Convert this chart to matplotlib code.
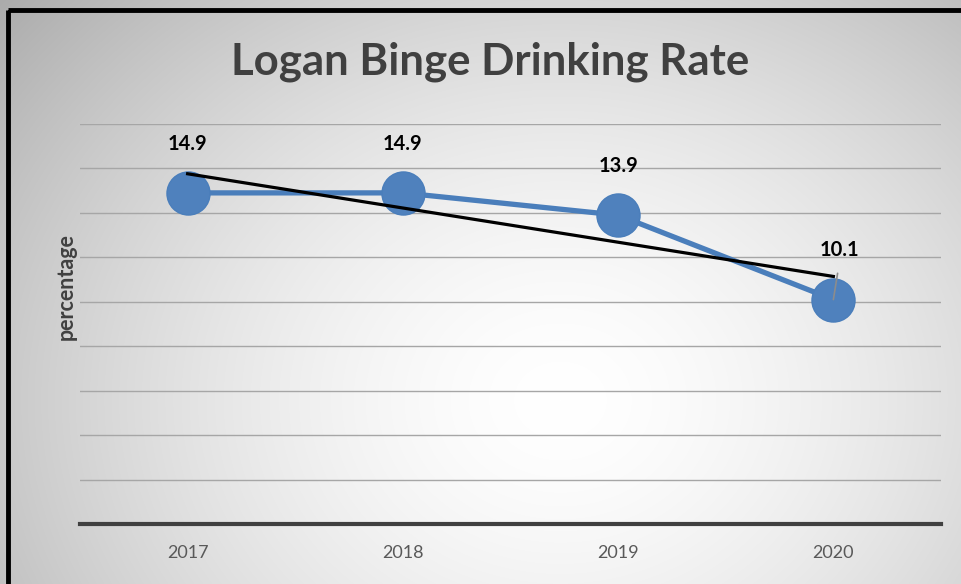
import numpy as np
import matplotlib
matplotlib.use("Agg")
import matplotlib.pyplot as plt
from matplotlib.patches import Rectangle

years = ["2017", "2018", "2019", "2020"]
rates = [14.9, 14.9, 13.9, 10.1]
title = "Logan Binge Drinking Rate"
ylabel = "percentage"

plt.rcParams['font.family'] = ['Lato', 'DejaVu Sans']

W, H = 961, 584
fig = plt.figure(figsize=(W / 100, H / 100), dpi=100)

# radial gradient background
bg = fig.add_axes([0, 0, 1, 1], zorder=-10)
yy, xx = np.mgrid[0:H, 0:W]
cx, cy = 560, 400
r = np.sqrt(((xx - cx) / 620.0) ** 2 + ((yy - cy) / 520.0) ** 2)
v = 1.0 - 0.25 * np.clip(r, 0, 1.2) ** 1.6
img = np.dstack([v, v, v])
bg.imshow(img, extent=[0, W, H, 0], aspect='auto', interpolation='bilinear')
bg.set_xlim(0, W)
bg.set_ylim(H, 0)
bg.axis('off')
# black frame (extends beyond right/bottom edges)
bg.add_patch(Rectangle((8, 10), W + 20, H + 20, fill=False, edgecolor='black', linewidth=3.5))

ax = fig.add_axes([80 / W, 1 - 524 / H, (941 - 80) / W, (524 - 124) / H])
ax.patch.set_alpha(0)
x = np.arange(len(years))
ax.set_xlim(-0.5, len(years) - 0.5)
ax.set_ylim(0, 18)
ax.set_yticks(np.arange(2, 19, 2))
ax.yaxis.grid(True, color='#a6a6a6', linewidth=1.0)
ax.tick_params(axis='y', length=0, labelleft=False)
ax.set_xticks(x)
ax.set_xticklabels(years, color='#595959', fontsize=13)
ax.tick_params(axis='x', length=0, pad=15)
for s in ['top', 'right', 'left']:
    ax.spines[s].set_visible(False)
ax.spines['bottom'].set_color('#404040')
ax.spines['bottom'].set_linewidth(3)
ax.set_axisbelow(True)

ax.plot(x, rates, color='#4a7ebb', linewidth=3.8, marker='o', markersize=31,
        markerfacecolor='#4f81bd', markeredgecolor='#4a7ebb', zorder=3)

# linear trendline
coef = np.polyfit(x, rates, 1)
ax.plot(x, np.polyval(coef, x), color='black', linewidth=2.3, zorder=4)

for i, val in enumerate(rates):
    if i == len(rates) - 1:
        ax.annotate(f"{val}", xy=(x[i], val), xytext=(x[i] + 0.03, val + 2.25),
                    ha='center', va='center', fontsize=14.5, fontweight='bold', color='black',
                    zorder=5,
                    arrowprops=dict(arrowstyle='-', color='#8c8c8c', lw=1.2,
                                    shrinkA=8, shrinkB=0,
                                    relpos=(0.5, 0.0)))
    else:
        ax.text(x[i], val + 2.2, f"{val}", ha='center', va='center',
                fontsize=14.5, fontweight='bold', color='black', zorder=5)

fig.text(490 / W, 1 - 62 / H, title, ha='center', va='center',
         fontsize=31.5, fontweight='bold', color='#404040')
fig.text(66 / W, 1 - 287 / H, ylabel, ha='center', va='center', rotation=90,
         fontsize=15.5, fontweight='bold', color='#404040')

fig.savefig("out.png", dpi=100)
